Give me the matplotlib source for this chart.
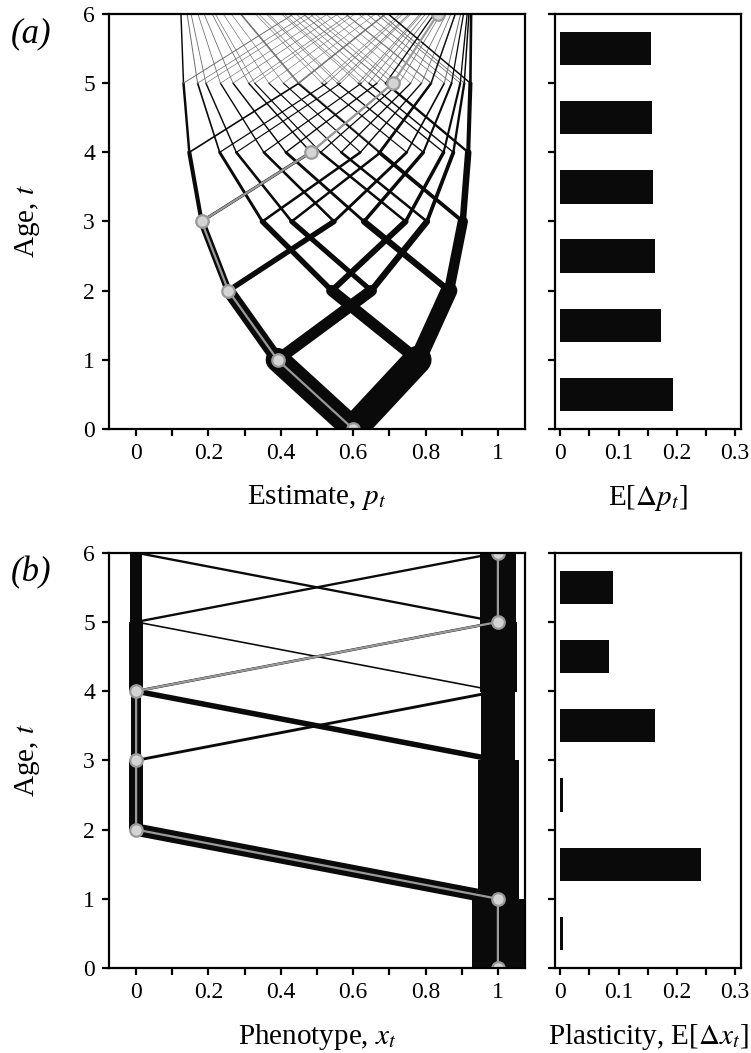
import numpy as np
import matplotlib
matplotlib.use("Agg")
import matplotlib.pyplot as plt
from matplotlib.ticker import MultipleLocator, FuncFormatter

# estimates p_t at each node of the cue tree (child 2i = low cue, 2i+1 = high cue of node i)
est0 = [600]
est1 = [391, 778]
est2 = [255, 650, 541, 865]
est3 = [181, 547, 430, 804, 349, 745, 630, 903]
est4 = [147, 483, 353, 748, 277, 676, 567, 877, 231, 620, 510, 850, 414, 794, 672, 918]
est5 = [131, 450, 311, 710, 233, 623, 513, 852, 193, 565, 451, 817, 367, 759, 643, 907,
        170, 527, 407, 789, 328, 727, 614, 896, 268, 666, 556, 872, 447, 815, 690, 924]
est6 = [124, 435, 290, 690, 210, 591, 480, 834, 171, 529, 409, 790, 330, 729, 615, 897,
        152, 494, 366, 759, 290, 690, 580, 883, 241, 633, 524, 857, 424, 800, 677, 920,
        141, 472, 339, 737, 263, 661, 551, 870, 219, 605, 494, 842, 402, 785, 665, 915,
        188, 558, 442, 812, 360, 754, 638, 905, 288, 688, 578, 882, 462, 824, 697, 926]

# probability of reaching each node (x 1e-4), sets the line width
prob1 = [4600, 5400]
prob2 = [2404, 2196, 2196, 3204]
prob3 = [1355, 1049, 977, 1219, 1049, 1147, 1219, 1985]
prob4 = [793, 562, 499, 550, 499, 478, 486, 733, 562, 487, 478, 669, 550, 669, 733, 1252]
prob5 = [473, 321, 278, 284, 267, 233, 228, 321, 278, 221, 209, 269, 228, 258, 276, 457,
         321, 241, 221, 266, 233, 245, 258, 412, 284, 266, 269, 400, 321, 412, 457, 795]
prob6 = [284, 189, 162, 159, 152, 126, 121, 163, 152, 115, 105, 127, 111, 117, 124, 198,
         162, 116, 104, 117, 105, 103, 106, 163, 121, 107, 106, 151, 124, 153, 168, 289,
         189, 132, 116, 125, 115, 107, 107, 159, 126, 107, 103, 142, 117, 140, 153, 259,
         159, 125, 117, 149, 127, 142, 151, 249, 163, 159, 163, 249, 198, 259, 289, 507]

# phenotype transitions: (age, from, to, probability)
pheno_edges = [
    (0, 1, 1, 1.0),
    (1, 1, 0, 0.2405), (1, 1, 1, 0.7595),
    (2, 0, 0, 0.2405), (2, 1, 1, 0.7595),
    (3, 0, 0, 0.1855), (3, 0, 1, 0.055), (3, 1, 0, 0.106), (3, 1, 1, 0.6535),
    (4, 0, 0, 0.239), (4, 0, 1, 0.052), (4, 1, 0, 0.031), (4, 1, 1, 0.678),
    (5, 0, 0, 0.225), (5, 0, 1, 0.045), (5, 1, 0, 0.045), (5, 1, 1, 0.685),
]

dp_bars = [0.194, 0.172, 0.163, 0.159, 0.157, 0.156]
dx_bars = [0.004, 0.242, 0.004, 0.163, 0.083, 0.090]

# highlighted example individual
path_p = [0.600, 0.391, 0.255, 0.181, 0.483, 0.710, 0.834]
path_x = [1, 1, 0, 0, 0, 1, 1]
ages = np.arange(7)

est = [np.array(e) / 1000 for e in (est0, est1, est2, est3, est4, est5, est6)]
prob = [None] + [np.array(w) / 1e4 for w in (prob1, prob2, prob3, prob4, prob5, prob6)]

plt.rcParams['font.family'] = ['Liberation Serif', 'DejaVu Serif']
plt.rcParams['mathtext.fontset'] = 'stix'

LW = 37.4      # points of line width for probability 1
INK = '#0a0a0a'
GREY = '#9a9a9a'


def style(ax, main):
    for sp in ax.spines.values():
        sp.set_linewidth(1.6)
    ax.set_ylim(0, 6)
    ax.yaxis.set_major_locator(MultipleLocator(1))
    ax.tick_params(which='both', direction='out', length=5, width=1.6, labelsize=17, pad=5)
    ax.xaxis.set_major_formatter(FuncFormatter(lambda v, pos: '%g' % round(v, 3)))
    if main:
        ax.set_xlim(-0.075, 1.075)
        ax.xaxis.set_major_locator(MultipleLocator(0.2))
        ax.xaxis.set_minor_locator(MultipleLocator(0.1))
        ax.set_ylabel('Age, $t$', fontsize=21, labelpad=30)
    else:
        ax.set_xlim(-0.0086, 0.31)
        ax.xaxis.set_major_locator(MultipleLocator(0.1))
        ax.xaxis.set_minor_locator(MultipleLocator(0.05))
        ax.set_yticklabels([])


fig = plt.figure(figsize=(7.51, 10.53), dpi=100)
ax1 = fig.add_axes([0.1451, 0.5926, 0.554, 0.3941])
ax2 = fig.add_axes([0.7394, 0.5926, 0.2473, 0.3941])
ax3 = fig.add_axes([0.1451, 0.0807, 0.554, 0.3944])
ax4 = fig.add_axes([0.7394, 0.0807, 0.2473, 0.3944])

# (a) tree of estimates
for t in range(1, 7):
    for i, p in enumerate(est[t]):
        lw = prob[t][i] * LW
        ax1.plot([est[t - 1][i // 2], p], [t - 1, t], color=INK if lw >= 0.8 else '#6e6e6e',
                 lw=lw, solid_capstyle='round')
ax1.plot(path_p, ages, color=GREY, lw=1.6, marker='o', ms=9, mfc='#d4d4d4', mec=GREY, mew=1.6)

# (b) phenotype tree
for t, a, b, w in sorted(pheno_edges, key=lambda e: -e[3]):
    stay = a == b
    ax3.plot([a, b], [t, t + 1], color=INK, lw=w * LW,
             solid_capstyle='butt' if stay else 'round', antialiased=not stay)
ax3.plot(path_x, ages, color=GREY, lw=1.6, marker='o', ms=9, mfc='#d4d4d4', mec=GREY, mew=1.6)

ax2.barh(ages[:-1] + 0.5, dp_bars, height=0.48, color=INK)
ax4.barh(ages[:-1] + 0.5, dx_bars, height=0.48, color=INK)

style(ax1, True)
style(ax2, False)
style(ax3, True)
style(ax4, False)
ax1.set_xlabel('Estimate, $p_t$', fontsize=21, labelpad=14)
ax2.set_xlabel(r'E[$\Delta p_t$]', fontsize=21, labelpad=14)
ax3.set_xlabel('Phenotype, $x_t$', fontsize=21, labelpad=14)
ax4.set_xlabel(r'Plasticity, E[$\Delta x_t$]', fontsize=21, labelpad=14)
fig.text(0.015, 0.968, '(a)', fontsize=25, style='italic', va='center')
fig.text(0.015, 0.456, '(b)', fontsize=25, style='italic', va='center')

fig.savefig("out.png")
